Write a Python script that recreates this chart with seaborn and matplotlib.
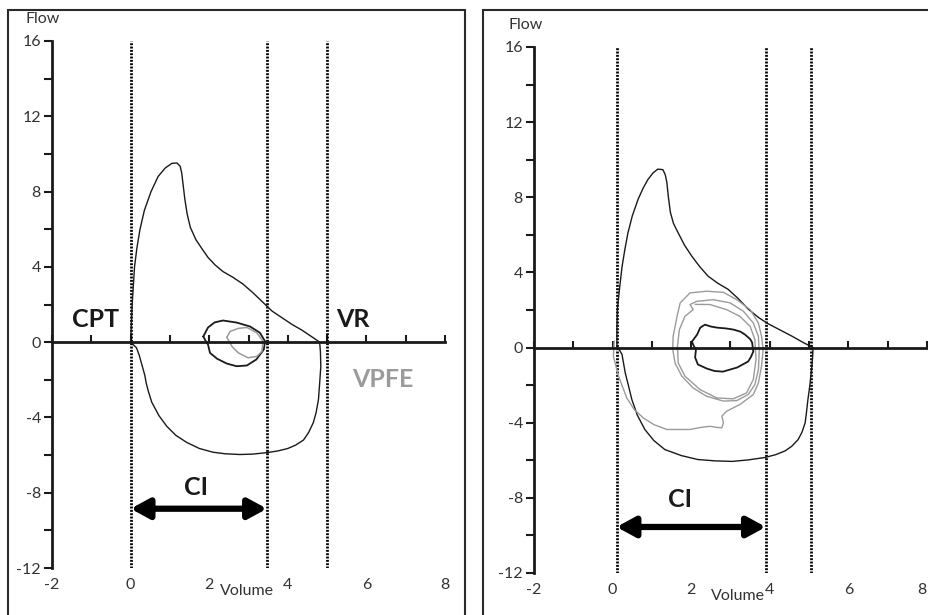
import matplotlib
matplotlib.use('Agg')
import matplotlib.pyplot as plt
import seaborn as sns
import pandas as pd
from matplotlib.patches import Rectangle

sns.set_style('white')
plt.rcParams['font.family'] = ['Lato', 'DejaVu Sans']
plt.rcParams['axes.unicode_minus'] = False

# ---- data ----
x_ticks_labels = [-2, 0, 2, 4, 6, 8]
y_ticks = list(range(-12, 17, 2))

# left panel: big flow-volume loop
left_big_x = [0.00, 0.02, 0.04, 0.07, 0.10, 0.16, 0.24, 0.35, 0.52, 0.70, 0.88, 1.05, 1.18, 1.26,
              1.30, 1.34, 1.38, 1.44, 1.52, 1.66, 1.82, 1.97, 2.15, 2.35, 2.60, 2.85, 3.10, 3.35,
              3.60, 3.85, 4.10, 4.35, 4.60, 4.81,
              4.83, 4.84, 4.81, 4.78, 4.72, 4.65, 4.53, 4.40, 4.20, 4.00, 3.75, 3.47, 3.10, 2.78,
              2.40, 2.10, 1.75, 1.43, 1.15, 0.92, 0.72, 0.54, 0.45, 0.40, 0.36, 0.30, 0.22, 0.15,
              0.05, 0.00]
left_big_y = [0.0, 1.0, 2.0, 3.0, 4.0, 5.0, 6.0, 7.0, 8.0, 8.8, 9.25, 9.5, 9.52, 9.35,
              9.0, 8.3, 7.6, 6.8, 6.1, 5.45, 4.95, 4.5, 4.1, 3.75, 3.45, 3.1, 2.65, 2.15,
              1.65, 1.3, 0.95, 0.65, 0.3, 0.0,
              -0.5, -1.3, -2.2, -3.05, -3.75, -4.27, -4.8, -5.2, -5.47, -5.65, -5.78, -5.87, -5.95, -5.97,
              -5.93, -5.85, -5.65, -5.33, -4.95, -4.47, -3.9, -3.2, -2.6, -2.2, -1.75, -1.3, -0.7, -0.3,
              -0.1, 0.0]

# left panel: tidal loops (rest = black, exercise = grey)
left_rest_x = [1.85, 1.97, 2.14, 2.35, 2.70, 3.04, 3.29, 3.42, 3.39, 3.20, 2.96, 2.70, 2.45, 2.20,
               2.02, 1.97, 1.90, 1.85]
left_rest_y = [0.3, 0.78, 1.05, 1.15, 1.04, 0.83, 0.5, 0.05, -0.39, -0.92, -1.24, -1.28, -1.14, -0.88,
               -0.57, -0.13, 0.1, 0.3]
left_vpfe_x = [2.45, 2.53, 2.74, 2.96, 3.21, 3.37, 3.34, 3.21, 2.99, 2.74, 2.58, 2.45]
left_vpfe_y = [0.25, 0.57, 0.73, 0.78, 0.5, 0.04, -0.49, -0.76, -0.83, -0.57, -0.23, 0.25]

left_lines = [0.0, 3.47, 5.0]

# right panel: big flow-volume loop
right_big_x = [0.11, 0.11, 0.12, 0.18, 0.24, 0.31, 0.39, 0.50, 0.65, 0.78, 0.90, 1.03, 1.15, 1.28,
               1.34, 1.38, 1.42, 1.47, 1.55, 1.67, 1.83, 2.02, 2.22, 2.43, 2.68, 2.94, 3.20, 3.45,
               3.70, 3.93, 4.25, 4.57, 4.85, 5.10,
               5.09, 5.07, 5.02, 4.97, 4.93, 4.90, 4.82, 4.72, 4.56, 4.39, 4.15, 3.88, 3.45, 3.04,
               2.60, 2.17, 1.75, 1.33, 1.05, 0.82, 0.63, 0.49, 0.40, 0.32, 0.24, 0.14, 0.11]
right_big_y = [0.0, 1.0, 2.0, 3.2, 4.3, 5.2, 6.1, 7.0, 7.9, 8.5, 8.95, 9.3, 9.5, 9.47,
               9.2, 8.8, 8.0, 7.2, 6.6, 6.1, 5.45, 4.85, 4.3, 3.8, 3.42, 3.1, 2.6, 2.05,
               1.62, 1.3, 0.95, 0.6, 0.27, 0.0,
               -0.5, -1.0, -2.0, -2.77, -3.5, -4.0, -4.5, -4.9, -5.25, -5.5, -5.7, -5.85, -5.98, -6.06,
               -6.03, -5.96, -5.75, -5.43, -4.95, -4.36, -3.6, -2.77, -2.0, -1.33, -0.37, 0.0, 0.0]

right_rest_x = [2.02, 2.15, 2.23, 2.35, 2.50, 2.66, 2.88, 3.07, 3.25, 3.37, 3.50, 3.55, 3.58, 3.52,
                3.45, 3.17, 2.81, 2.60, 2.40, 2.17, 2.10, 2.12, 2.05, 2.02]
right_rest_y = [0.32, 0.69, 1.06, 1.22, 1.12, 1.06, 1.02, 0.96, 0.85, 0.69, 0.45, 0.27, -0.21, -0.5,
                -0.74, -1.06, -1.28, -1.25, -1.12, -0.9, -0.53, -0.11, 0.15, 0.32]

right_ex_x = [0.04, 0.02, 0.15, 0.36, 0.55, 0.78, 1.05, 1.38, 1.97, 2.25, 2.48, 2.65, 2.78, 2.82,
              2.78, 2.90, 3.24, 3.58, 3.71, 3.79, 3.83, 3.79, 3.71, 3.50, 3.16, 2.82, 2.39, 1.97,
              1.72, 1.64, 1.54, 1.53, 1.59, 1.76, 2.05, 2.39, 2.82, 3.16, 3.45, 3.62, 3.71, 3.73,
              3.71, 3.58, 3.33, 2.99, 2.56, 2.14, 1.97, 2.05, 1.84, 1.70, 1.65, 1.67, 1.84, 2.22,
              2.65, 3.07, 3.41, 3.58, 3.65, 3.62, 3.50, 3.24, 2.90, 2.48, 2.10]
right_ex_y = [0.35, -0.46, -1.52, -2.68, -3.3, -3.74, -4.1, -4.36, -4.36, -4.25, -4.19, -4.25, -4.27, -4.0,
              -3.65, -3.39, -3.03, -2.5, -1.88, -0.99, -0.1, 0.6, 1.31, 2.02, 2.55, 2.94, 3.0, 2.91,
              2.38, 1.66, 0.6, -0.1, -0.82, -1.52, -2.15, -2.59, -2.85, -2.82, -2.5, -1.97, -1.17, -0.28,
              0.6, 1.31, 1.93, 2.38, 2.55, 2.46, 2.29, 2.02, 1.66, 0.96, 0.07, -0.82, -1.52, -2.23,
              -2.68, -2.73, -2.41, -1.7, -0.64, 0.43, 1.13, 1.66, 2.02, 2.29, 2.3]

right_lines = [0.1, 3.9, 5.05]

GREY = '#9b9b9b'
INK = '#1a1a1a'
TXT = '#333333'
FS = 11.5


def draw_loop(ax, xs, ys, color, lw):
    df = pd.DataFrame({'vol': xs, 'flow': ys})
    sns.lineplot(data=df, x='vol', y='flow', sort=False, estimator=None,
                 color=color, lw=lw, ax=ax)


def style_axes(ax, xlab_pos, flow_pos, squeeze_last=False):
    ax.set_xlim(-2, 8)
    ax.set_ylim(-12, 16)
    ax.set_facecolor('none')
    for s in ['top', 'right']:
        ax.spines[s].set_visible(False)
    ax.spines['left'].set_linewidth(2)
    ax.spines['left'].set_color(INK)
    ax.spines['bottom'].set_position(('data', 0))
    ax.spines['bottom'].set_linewidth(2)
    ax.spines['bottom'].set_color(INK)
    ax.set_xticks(range(-2, 9))
    ax.set_xticklabels([])
    ax.tick_params(axis='x', direction='in', length=5, width=1.5, color=INK, bottom=True)
    ax.set_yticks(y_ticks)
    ax.set_yticklabels([str(v) if v % 4 == 0 else '' for v in y_ticks])
    ax.tick_params(axis='y', direction='out', length=6, width=1.5, color=INK, left=True,
                   labelsize=FS, labelcolor=TXT, pad=2)
    sec = ax.secondary_xaxis('bottom')
    sec.set_xticks(x_ticks_labels)
    sec.set_xticklabels([str(v) for v in x_ticks_labels])
    sec.tick_params(length=0, pad=7, labelsize=FS, labelcolor=TXT)
    sec.spines['bottom'].set_visible(False)
    if squeeze_last:
        sec.get_xticklabels()[-1].set_horizontalalignment('right')
    ax.set_xlabel('Volume', fontsize=FS, color=TXT)
    ax.xaxis.set_label_coords(*xlab_pos)
    ax.set_ylabel('')
    ax.text(flow_pos[0], flow_pos[1], 'Flow', transform=ax.transAxes, fontsize=FS,
            color=TXT, ha='center', va='center')


def add_arrow(ax, x0, x1, y):
    ax.annotate('', xy=(x1, y), xytext=(x0, y),
                arrowprops=dict(arrowstyle='<|-|>,head_length=0.55,head_width=0.3',
                                mutation_scale=20, lw=4.5, color='black',
                                shrinkA=0, shrinkB=0))


fig = plt.figure(figsize=(9.29, 6.15), dpi=100)

# panel frames
fig.patches.append(Rectangle((8 / 929, -0.05), 457 / 929, 1.05 - 10 / 615, transform=fig.transFigure,
                             fill=False, lw=1.5, edgecolor='#2a2a2a', clip_on=False))
fig.patches.append(Rectangle((483 / 929, -0.05), 0.5, 1.05 - 10 / 615, transform=fig.transFigure,
                             fill=False, lw=1.5, edgecolor='#2a2a2a', clip_on=False))

ax1 = fig.add_axes([52 / 929, 47 / 615, 393 / 929, 527 / 615])
ax2 = fig.add_axes([534 / 929, 42 / 615, 393 / 929, 526 / 615])

# ---- left panel ----
ax1.vlines(left_lines, -12, 16, colors='black', lw=2.0, linestyles=(0, (0.7, 0.5)))
draw_loop(ax1, left_big_x, left_big_y, INK, 1.0)
draw_loop(ax1, left_rest_x, left_rest_y, INK, 1.3)
draw_loop(ax1, left_vpfe_x, left_vpfe_y, GREY, 1.1)
style_axes(ax1, (0.496, -0.03), (-0.023, 1.042))
ax1.text(-0.9, 1.2, 'CPT', fontsize=18, fontweight='bold', ha='center', va='center', color=INK)
ax1.text(5.66, 1.2, 'VR', fontsize=18, fontweight='bold', ha='center', va='center', color=INK)
ax1.text(6.42, -2.0, 'VPFE', fontsize=18, fontweight='bold', ha='center', va='center', color=GREY)
ax1.text(1.66, -7.7, 'CI', fontsize=18, fontweight='bold', ha='center', va='center', color=INK)
add_arrow(ax1, left_lines[0], left_lines[1], -8.85)

# ---- right panel ----
ax2.vlines(right_lines, -12, 16, colors='black', lw=2.0, linestyles=(0, (0.7, 0.5)))
draw_loop(ax2, right_big_x, right_big_y, INK, 1.0)
draw_loop(ax2, right_ex_x, right_ex_y, GREY, 1.0)
draw_loop(ax2, right_rest_x, right_rest_y, INK, 1.3)
style_axes(ax2, (0.52, -0.03), (-0.02, 1.042), squeeze_last=True)
ax2.text(1.71, -8.1, 'CI', fontsize=18, fontweight='bold', ha='center', va='center', color=INK)
add_arrow(ax2, right_lines[0], right_lines[1], -9.55)

fig.savefig('out.png', dpi=100)
